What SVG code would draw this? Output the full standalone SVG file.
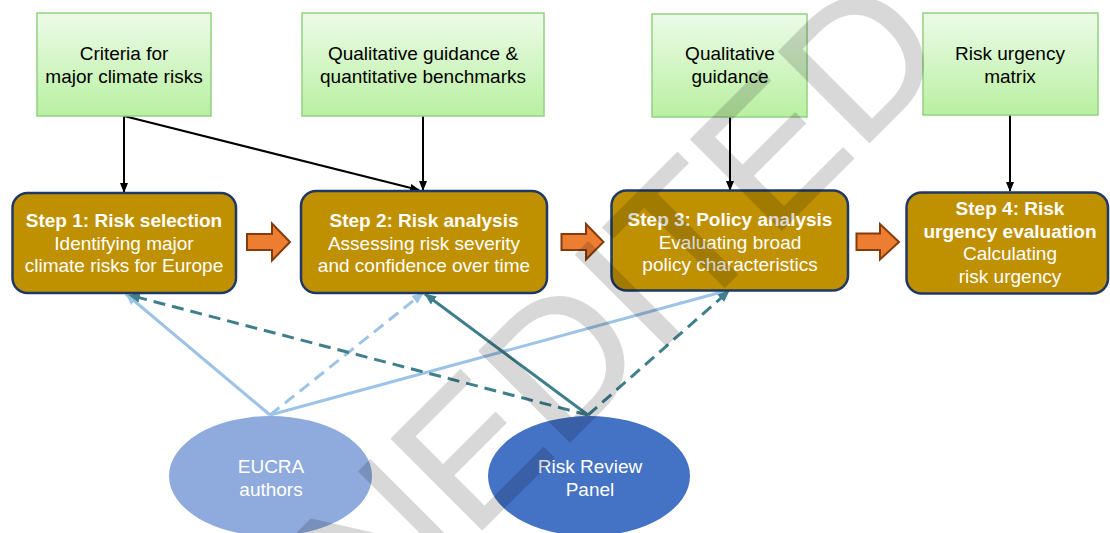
<svg xmlns="http://www.w3.org/2000/svg" width="1110" height="533" viewBox="0 0 1110 533">
<defs>
<linearGradient id="gg" x1="0" y1="0" x2="0" y2="1">
<stop offset="0" stop-color="#edfbe8"/>
<stop offset="1" stop-color="#b9f0a1"/>
</linearGradient>
<marker id="ak" markerUnits="userSpaceOnUse" markerWidth="10" markerHeight="10" viewBox="0 0 10 10" refX="9" refY="5" orient="auto">
<path d="M0,1 L10,5 L0,9 z" fill="#000"/>
</marker>
<marker id="ab" markerUnits="userSpaceOnUse" markerWidth="12" markerHeight="12" viewBox="0 0 12 12" refX="11" refY="6" orient="auto">
<path d="M0,1 L12,6 L0,11 z" fill="#9dc3e6"/>
</marker>
<marker id="at" markerUnits="userSpaceOnUse" markerWidth="12" markerHeight="12" viewBox="0 0 12 12" refX="11" refY="6" orient="auto">
<path d="M0,1 L12,6 L0,11 z" fill="#3f7f8c"/>
</marker>
</defs>
<style>
.src{fill:url(#gg);stroke:#93d183;stroke-width:1.5}
.step{fill:#bf9000;stroke:#1f3864;stroke-width:2.5}
.blk{stroke:#000;stroke-width:2;fill:none;marker-end:url(#ak)}
.lb{stroke:#9dc3e6;stroke-width:3;fill:none;marker-end:url(#ab)}
.tl{stroke:#3f7f8c;stroke-width:3;fill:none;marker-end:url(#at)}
.dash{stroke-dasharray:12 7}
.oa{fill:#ed7d31;stroke:#843c0c;stroke-width:2}
text{font-family:"Liberation Sans",Arial,sans-serif;font-size:19px;text-anchor:middle}
.dk{fill:#000}
.wt{fill:#fff}
.b{font-weight:bold}
</style>

<g id="connectors">
<line class="blk" x1="124" y1="116" x2="124" y2="192"/>
<line class="blk" x1="124" y1="116" x2="419" y2="190"/>
<line class="blk" x1="423" y1="116" x2="423" y2="190"/>
<line class="blk" x1="730" y1="117" x2="730" y2="190"/>
<line class="blk" x1="1010" y1="115" x2="1010" y2="191"/>
<line class="lb" x1="270" y1="415" x2="126" y2="294"/>
<line class="lb dash" x1="270" y1="415" x2="423" y2="293"/>
<line class="lb" x1="270" y1="415" x2="729" y2="290"/>
<line class="tl dash" x1="588" y1="415" x2="129" y2="295"/>
<line class="tl" x1="588" y1="415" x2="425" y2="294"/>
<line class="tl dash" x1="588" y1="415" x2="729" y2="291"/>
</g>

<g id="src1"><rect class="src" x="37" y="13" width="174" height="103"/>
<text class="dk" x="124" y="60">Criteria for</text><text class="dk" x="124" y="83">major climate risks</text></g>
<g id="src2"><rect class="src" x="302" y="13" width="242" height="103"/>
<text class="dk" x="423" y="60">Qualitative guidance &amp;</text><text class="dk" x="423" y="83">quantitative benchmarks</text></g>
<g id="src3"><rect class="src" x="652" y="14" width="155" height="103"/>
<text class="dk" x="730" y="60">Qualitative</text><text class="dk" x="730" y="83">guidance</text></g>
<g id="src4"><rect class="src" x="923" y="13" width="175" height="102"/>
<text class="dk" x="1010" y="60">Risk urgency</text><text class="dk" x="1010" y="83">matrix</text></g>

<g id="step1"><rect class="step" x="12.5" y="193" width="223.5" height="100" rx="15"/>
<text class="wt b" x="124" y="227">Step 1: Risk selection</text>
<text class="wt" x="124" y="249.5">Identifying major</text>
<text class="wt" x="124" y="272">climate risks for Europe</text></g>
<g id="step2"><rect class="step" x="301" y="191" width="246" height="102" rx="15"/>
<text class="wt b" x="424" y="227">Step 2: Risk analysis</text>
<text class="wt" x="424" y="249.5">Assessing risk severity</text>
<text class="wt" x="424" y="272">and confidence over time</text></g>
<g id="step3"><rect class="step" x="611.5" y="190.5" width="236.5" height="100" rx="15"/>
<text class="wt b" x="730" y="226">Step 3: Policy analysis</text>
<text class="wt" x="730" y="248.5">Evaluating broad</text>
<text class="wt" x="730" y="271">policy characteristics</text></g>
<g id="step4"><rect class="step" x="906.5" y="192.5" width="201.5" height="101" rx="15"/>
<text class="wt b" x="1010" y="215">Step 4: Risk</text>
<text class="wt b" x="1010" y="237.5">urgency evaluation</text>
<text class="wt" x="1010" y="260">Calculating</text>
<text class="wt" x="1010" y="282.5">risk urgency</text></g>

<g id="arrow1"><path class="oa" d="M247,234 H272 V223.5 L290,242 L272,260.5 V250 H247 z"/></g>
<g id="arrow2"><path class="oa" d="M561.5,234 H586 V224 L603.5,242 L586,259.5 V250 H561.5 z"/></g>
<g id="arrow3"><path class="oa" d="M856.5,233.5 H880 V224 L899,242 L880,259.5 V250 H856.5 z"/></g>

<g id="eucra"><ellipse cx="270.5" cy="476" rx="101.5" ry="60" fill="#8faadc"/>
<text class="wt" x="271" y="472.5">EUCRA</text><text class="wt" x="271" y="495.5">authors</text></g>
<g id="rrp"><ellipse cx="589" cy="476" rx="101" ry="60" fill="#4472c4"/>
<text class="wt" x="590" y="472.5">Risk Review</text><text class="wt" x="590" y="495.5">Panel</text></g>

<g id="watermark" opacity="0.15">
<text transform="translate(281.5,730) rotate(-45)" x="0" y="0" style="text-anchor:start;font-size:186px;fill:#000;stroke:#000;stroke-width:2;stroke-linejoin:round">UNEDITED</text>
</g>
</svg>
